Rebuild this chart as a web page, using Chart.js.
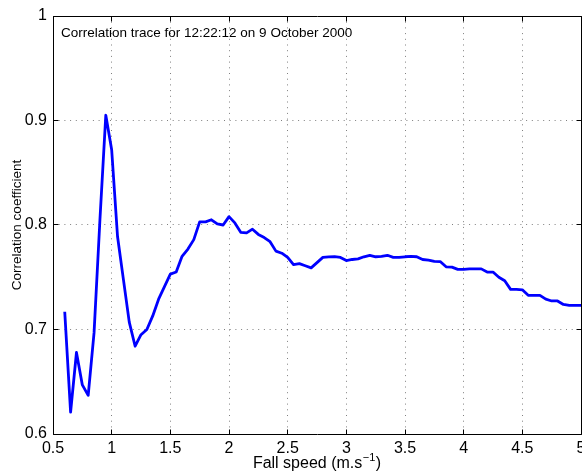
<!DOCTYPE html>
<html>
<head>
<meta charset="utf-8">
<title>Correlation trace</title>
<script src="https://cdn.jsdelivr.net/npm/chart.js@4.4.0/dist/chart.umd.min.js"></script>
<style>
  html, body { margin: 0; padding: 0; background: #fff; overflow: hidden; }
  canvas { display: block; }
</style>
</head>
<body>
<canvas id="trace" width="582" height="474"></canvas>
<script>
// Fall speed bins (m/s)
const fallSpeed = [
  0.60, 0.65, 0.70, 0.75, 0.80, 0.85, 0.90, 0.95, 1.00, 1.05,
  1.10, 1.15, 1.20, 1.25, 1.30, 1.35, 1.40, 1.45, 1.50, 1.55,
  1.60, 1.65, 1.70, 1.75, 1.80, 1.85, 1.90, 1.95, 2.00, 2.05,
  2.10, 2.15, 2.20, 2.25, 2.30, 2.35, 2.40, 2.45, 2.50, 2.55,
  2.60, 2.65, 2.70, 2.75, 2.80, 2.85, 2.90, 2.95, 3.00, 3.05,
  3.10, 3.15, 3.20, 3.25, 3.30, 3.35, 3.40, 3.45, 3.50, 3.55,
  3.60, 3.65, 3.70, 3.75, 3.80, 3.85, 3.90, 3.95, 4.00, 4.05,
  4.10, 4.15, 4.20, 4.25, 4.30, 4.35, 4.40, 4.45, 4.50, 4.55,
  4.60, 4.65, 4.70, 4.75, 4.80, 4.85, 4.90, 4.95, 5.00
];

// Correlation coefficient for each fall speed bin
const correlation = [
  0.717, 0.621, 0.678, 0.647, 0.637, 0.697, 0.805, 0.905, 0.872, 0.789,
  0.748, 0.707, 0.684, 0.695, 0.700, 0.713, 0.729, 0.741, 0.753, 0.755,
  0.770, 0.777, 0.786, 0.803, 0.803, 0.805, 0.801, 0.800, 0.808, 0.802,
  0.793, 0.7925, 0.796, 0.791, 0.788, 0.784, 0.775, 0.773, 0.769, 0.762,
  0.763, 0.761, 0.759, 0.764, 0.769, 0.7695, 0.7697, 0.769, 0.766, 0.767,
  0.7676, 0.7696, 0.771, 0.7696, 0.770, 0.771, 0.769, 0.769, 0.7696, 0.770,
  0.7696, 0.767, 0.7664, 0.7652, 0.765, 0.760, 0.7597, 0.7575, 0.7575, 0.758,
  0.758, 0.758, 0.755, 0.755, 0.750, 0.7467, 0.7384, 0.7384, 0.738, 0.7327,
  0.7327, 0.7327, 0.729, 0.7273, 0.7273, 0.724, 0.723, 0.723, 0.723
];

const xTickValues = [0.5, 1, 1.5, 2, 2.5, 3, 3.5, 4, 4.5, 5];
const yTickValues = [0.6, 0.7, 0.8, 0.9, 1];

const traceTitle = 'Correlation trace for 12:22:12 on 9 October 2000';
const xAxisTitle = 'Fall speed (m.s';
const xAxisExponent = '\u22121';
const yAxisTitle = 'Correlation coefficient';

const FONT = '"Liberation Sans", Arial, Helvetica, sans-serif';

const points = fallSpeed.map((v, i) => ({ x: v, y: correlation[i] }));

function align(p) { return Math.round(p - 0.5) + 0.5; }

// Boxed axes with inward tick marks, plus the axis titles and the in-plot caption
const boxedAxes = {
  id: 'boxedAxes',
  afterDraw(chart) {
    const { ctx, chartArea: a, scales: { x, y } } = chart;
    const L = align(a.left), R = align(a.right), T = align(a.top), B = align(a.bottom);
    const tick = 5;
    ctx.save();
    ctx.strokeStyle = '#000';
    ctx.lineWidth = 1;
    ctx.setLineDash([]);
    ctx.beginPath();
    ctx.rect(L, T, R - L, B - T);
    xTickValues.forEach(v => {
      const px = align(x.getPixelForValue(v));
      ctx.moveTo(px, B); ctx.lineTo(px, B - tick);
      ctx.moveTo(px, T); ctx.lineTo(px, T + tick);
    });
    yTickValues.forEach(v => {
      const py = align(y.getPixelForValue(v));
      ctx.moveTo(L, py); ctx.lineTo(L + tick, py);
      ctx.moveTo(R, py); ctx.lineTo(R - tick, py);
    });
    ctx.stroke();

    ctx.fillStyle = '#000';
    // caption inside the axes
    ctx.font = '13.5px ' + FONT;
    ctx.textAlign = 'left';
    ctx.textBaseline = 'alphabetic';
    ctx.fillText(traceTitle, a.left + 8, a.top + 21);

    // x-axis title with superscript exponent
    const mainFont = '16px ' + FONT;
    const supFont = '11px ' + FONT;
    ctx.font = mainFont;
    const w1 = ctx.measureText(xAxisTitle).width;
    const w3 = ctx.measureText(')').width;
    ctx.font = supFont;
    const w2 = ctx.measureText(xAxisExponent).width;
    const total = w1 + w2 + w3 + 1;
    const cx = (a.left + a.right) / 2;
    let tx = cx - total / 2;
    const base = 468;
    ctx.font = mainFont;
    ctx.fillText(xAxisTitle, tx, base);
    tx += w1 + 0.5;
    ctx.font = supFont;
    ctx.fillText(xAxisExponent, tx, base - 7);
    tx += w2 + 0.5;
    ctx.font = mainFont;
    ctx.fillText(')', tx, base);

    // y-axis title, rotated
    ctx.save();
    ctx.translate(21, (a.top + a.bottom) / 2);
    ctx.rotate(-Math.PI / 2);
    ctx.font = '13.5px ' + FONT;
    ctx.textAlign = 'center';
    ctx.textBaseline = 'alphabetic';
    ctx.fillText(yAxisTitle, 0, 0);
    ctx.restore();
    ctx.restore();
  }
};

const gridStyle = { color: 'rgba(0,0,0,0.5)', lineWidth: 1, drawTicks: false };
const borderStyle = { display: false, dash: [1, 4.7] };

new Chart(document.getElementById('trace'), {
  type: 'line',
  data: {
    datasets: [{
      data: points,
      borderColor: '#0000ff',
      borderWidth: 2.8,
      borderJoinStyle: 'round',
      pointRadius: 0,
      tension: 0,
      fill: false
    }]
  },
  options: {
    responsive: false,
    animation: false,
    devicePixelRatio: 1,
    layout: { padding: { left: 0, right: 1, top: 16, bottom: 0 } },
    plugins: { legend: { display: false }, tooltip: { enabled: false } },
    scales: {
      x: {
        type: 'linear',
        min: 0.5,
        max: 5,
        grid: gridStyle,
        border: borderStyle,
        afterBuildTicks: s => { s.ticks = xTickValues.map(v => ({ value: v })); },
        afterFit: s => { s.height = 40; s.paddingLeft = 0; s.paddingRight = 0; },
        ticks: {
          autoSkip: false,
          maxRotation: 0,
          padding: 5,
          color: '#000',
          font: { family: FONT, size: 16 },
          callback: v => String(v)
        }
      },
      y: {
        type: 'linear',
        min: 0.6,
        max: 1,
        grid: gridStyle,
        border: borderStyle,
        afterBuildTicks: s => { s.ticks = yTickValues.map(v => ({ value: v })); },
        afterFit: s => { s.width = 53; s.paddingTop = 0; s.paddingBottom = 0; },
        ticks: {
          padding: 6,
          color: '#000',
          font: { family: FONT, size: 16 },
          callback: v => String(v)
        }
      }
    }
  },
  plugins: [boxedAxes]
});
</script>
</body>
</html>
